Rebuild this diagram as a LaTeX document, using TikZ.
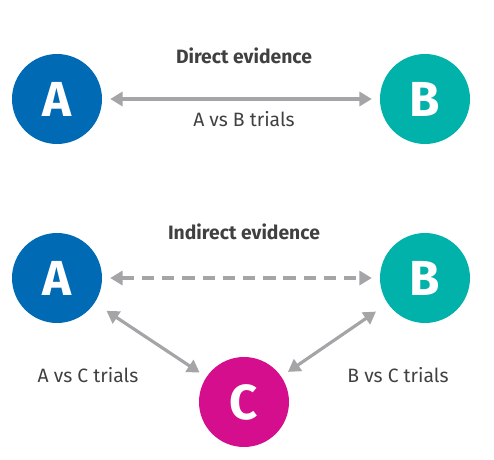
\documentclass[tikz,border=0pt]{standalone}
\usepackage{fontspec}
\setmainfont{Fira Sans}
\usepackage{xcolor}
\usepackage{tikz}
\usetikzlibrary{
    arrows.meta,
    positioning
}
\definecolor{treatA}{RGB}{0,106,180}
\definecolor{treatB}{RGB}{0,178,169}
\definecolor{treatC}{RGB}{212,14,140}
\definecolor{linkgray}{RGB}{165,165,168}
\definecolor{textgray}{RGB}{64,64,64}
\tikzset{
    treat/.style={
        circle,
        minimum size=1.8cm,
        inner sep=0pt,
        text=white,
        font=\bfseries\fontsize{28}{30}\selectfont
    },
    title/.style={
        font=\bfseries\fontsize{11}{13}\selectfont,
        text=textgray
    },
    trials/.style={
        font=\fontsize{11}{13}\selectfont,
        text=textgray
    },
    link/.style={
        {Triangle[length=7pt,width=8pt]}-{Triangle[length=7pt,width=8pt]},
        draw=linkgray,
        line width=1.8pt,
        shorten <=4.5pt,
        shorten >=4.5pt
    },
    indirect/.style={
        link,
        dash pattern=on 7pt off 4.5pt
    }
}
\begin{document}
\begin{tikzpicture}[x=0.02cm, y=-0.02cm]
    \useasboundingbox (0,0) rectangle (494,460);

    % Direct evidence
    \node[treat, fill=treatA] (a1) at (57,99) {A};
    \node[treat, fill=treatB] (b1) at (425,99) {B};
    \node[title] (direct) at (244,56) {Direct evidence};
    \draw[link] (a1) -- (b1);
    \node[trials] (ab) at (244,119) {A vs B trials};

    % Indirect evidence
    \node[treat, fill=treatA] (a2) at (57,278) {A};
    \node[treat, fill=treatB] (b2) at (425,278) {B};
    \node[treat, fill=treatC] (c2) at (244,402) {C};
    \node[title] (indirect) at (244,232) {Indirect evidence};
    \draw[indirect] (a2) -- (b2);
    \draw[link, shorten <=8pt] (a2) -- (c2);
    \draw[link, shorten <=8pt] (b2) -- (c2);
    \node[trials] (ac) at (88,375) {A vs C trials};
    \node[trials] (bc) at (398,375) {B vs C trials};
\end{tikzpicture}
\end{document}
